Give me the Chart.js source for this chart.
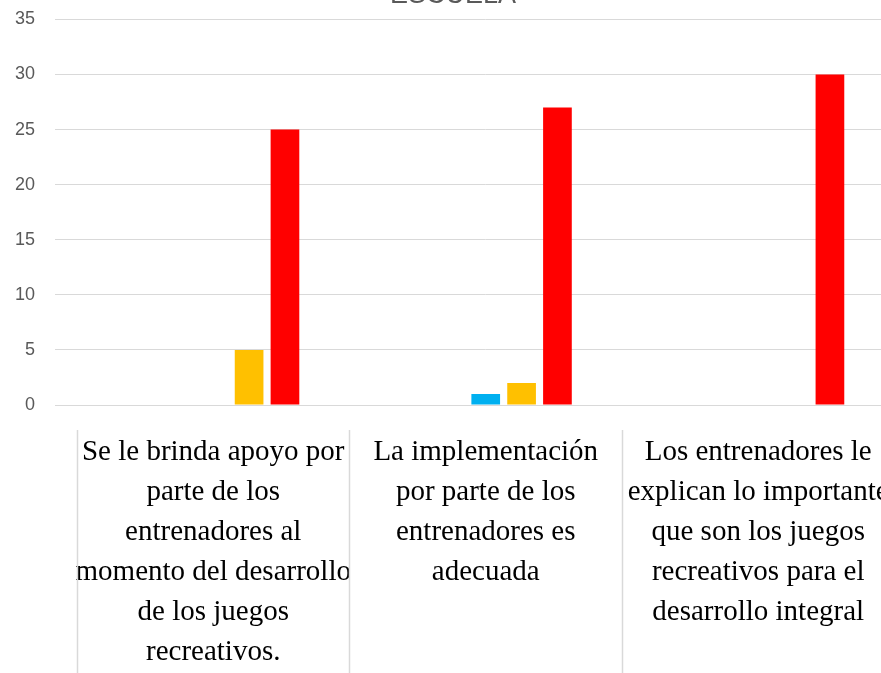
<!DOCTYPE html>
<html>

<head>
    <meta charset="UTF-8" />
    <title>Escuela</title>
    <style>
        html, body { margin: 0; padding: 0; background: #fff; overflow: hidden; }
        .marco { width: 881px; height: 673px; overflow: hidden; position: relative; }
        .marco canvas { position: absolute; left: 0; top: -40px; }
    </style>
</head>

<body>
    <div class="marco">
        <canvas id="graficoEscuela" width="908" height="713"></canvas>
    </div>
    <script src="https://cdn.jsdelivr.net/npm/chart.js"></script>
    <script>
        // Categorias (cada una en varias lineas, como en la tabla original)
        const preguntas = [
            ['Se le brinda apoyo por', 'parte de los', 'entrenadores al', 'momento del desarrollo', 'de los juegos', 'recreativos.'],
            ['La implementación', 'por parte de los', 'entrenadores es', 'adecuada'],
            ['Los entrenadores le', 'explican lo importante', 'que son los juegos', 'recreativos para el', 'desarrollo integral']
        ];

        // Valores por serie
        const siempre = [0, 0, 0];
        const casiSiempre = [0, 0, 0];
        const aVeces = [0, 1, 0];
        const casiNunca = [5, 2, 0];
        const nunca = [25, 27, 30];

        const ticksY = [0, 5, 10, 15, 20, 25, 30, 35];

        const gris = '#d9d9d9';

        // lineas de la tabla de etiquetas
        const separadores = {
            id: 'separadores',
            afterDraw(chart) {
                const x = chart.scales.x;
                const c = chart.ctx;
                const ancho = x.getPixelForValue(1) - x.getPixelForValue(0);
                c.save();
                c.strokeStyle = gris;
                c.lineWidth = 1.5;
                for (let i = 0; i < preguntas.length; i++) {
                    const px = Math.round(x.getPixelForValue(i) - ancho / 2) + 0.5;
                    c.beginPath();
                    c.moveTo(px, chart.chartArea.bottom + 25);
                    c.lineTo(px, chart.height);
                    c.stroke();
                }
                c.restore();
            }
        };

        const ctx = document.getElementById('graficoEscuela').getContext('2d');

        new Chart(ctx, {
            type: 'bar',
            data: {
                labels: preguntas,
                datasets: [
                    { label: 'Siempre', data: siempre, backgroundColor: '#92d050' },
                    { label: 'Casi siempre', data: casiSiempre, backgroundColor: '#0070c0' },
                    { label: 'A veces', data: aVeces, backgroundColor: '#00b0f0' },
                    { label: 'Casi nunca', data: casiNunca, backgroundColor: '#ffc000' },
                    { label: 'Nunca', data: nunca, backgroundColor: '#ff0000' }
                ]
            },
            options: {
                responsive: false,
                animation: false,
                categoryPercentage: 0.658,
                barPercentage: 0.8,
                layout: { padding: { left: 0, right: 2, top: 0, bottom: 0 } },
                plugins: {
                    legend: { display: false },
                    tooltip: { enabled: false },
                    title: {
                        display: true,
                        text: 'ESCUELA',
                        color: '#595959',
                        font: { family: 'Liberation Sans', size: 27, weight: 'normal' },
                        padding: { top: 19, bottom: 8 }
                    }
                },
                scales: {
                    x: {
                        afterFit(s) { s.height = 268; },
                        grid: { display: false },
                        border: { display: true, color: gris, width: 1 },
                        ticks: {
                            color: '#000',
                            maxRotation: 0,
                            autoSkip: false,
                            padding: 19,
                            font: { family: 'Liberation Serif', size: 29, lineHeight: 1.38 }
                        }
                    },
                    y: {
                        min: 0,
                        max: 35,
                        afterFit(s) { s.width = 77; },
                        afterBuildTicks(s) { s.ticks = ticksY.map(v => ({ value: v })); },
                        border: { display: false },
                        grid: { color: gris, lineWidth: 1, drawTicks: true, tickLength: 22 },
                        ticks: {
                            color: '#595959',
                            padding: 20,
                            font: { family: 'Liberation Sans', size: 18 }
                        }
                    }
                }
            },
            plugins: [separadores]
        });
    </script>
</body>

</html>
